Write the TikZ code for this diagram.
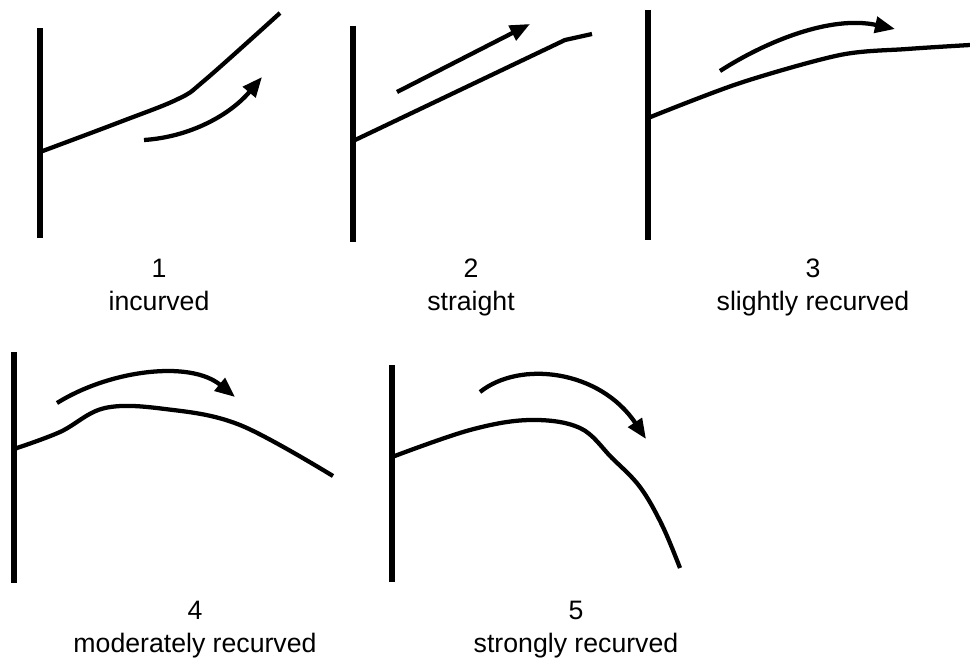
\documentclass[tikz,border=0pt]{standalone}
\usepackage{fontspec}
\setmainfont{Liberation Sans}
\usetikzlibrary{arrows.meta}

\begin{document}
\begin{tikzpicture}[font=\fontsize{20}{24}\selectfont, line join=round,
	bar/.style={line width=3.8pt},
	spine/.style={line width=3.2pt},
	flow/.style={line width=3.2pt, -{Triangle[length=15pt, width=12pt]}}]
	\begin{scope}[x=0.75pt, y=-0.75pt]
		\useasboundingbox (0,0) rectangle (970,660);
		
		% bases of the five spines
		\path (40,152) coordinate (B1)
		(353,141) coordinate (B2)
		(648,118) coordinate (B3)
		(14,449) coordinate (B4)
		(392,457) coordinate (B5);
		
		% vertical bars
		\draw[bar] (40,28) -- (40,238);
		\draw[bar] (353,26) -- (353,242);
		\draw[bar] (648,10) -- (648,240);
		\draw[bar] (14,352) -- (14,583);
		\draw[bar] (392,365) -- (392,582);
		
		% 1 incurved
		\draw[spine] plot[smooth, tension=.6] coordinates {(B1) (120,122) (178,99) (205,80) (280,13)};
		\draw[flow] (144,140) .. controls (190,137) and (230,115) .. (262,77);
		
		% 2 straight
		\draw[spine] (B2) -- (565,40) -- (592,34);
		\draw[flow] (397,92) -- (530,24);
		
		% 3 slightly recurved
		\draw[spine] plot[smooth] coordinates {(B3) (740,83) (840,55) (907,49) (970,45)};
		\draw[flow] (720,71) .. controls (765,42) and (830,15) .. (895,29);
		
		% 4 moderately recurved
		\draw[spine] plot[smooth, tension=.6] coordinates {(B4) (60,432) (105,408) (165,409) (240,425) (333,476)};
		\draw[flow] (57,403) .. controls (110,370) and (190,360) .. (235,397);
		
		% 5 strongly recurved
		\draw[spine] plot[smooth, tension=.6] coordinates {(B5) (470,430) (530,420) (580,428) (612,458) (640,487) (662,525) (680,568)};
		\draw[flow] (480,392) .. controls (520,360) and (600,370) .. (646,439);
		
		\foreach \n/\xx/\yy/\txt in {1/159/277/incurved, 2/471/277/straight, 3/813/277/slightly recurved,
			4/195/619/moderately recurved, 5/576/619/strongly recurved}
		{
			\node[anchor=base, inner sep=0pt] (num\n) at (\xx,\yy) {\n};
			\node[anchor=base, inner sep=0pt] (lab\n) at (\xx,\yy+33) {\txt};
		}
	\end{scope}
\end{tikzpicture}
\end{document}
